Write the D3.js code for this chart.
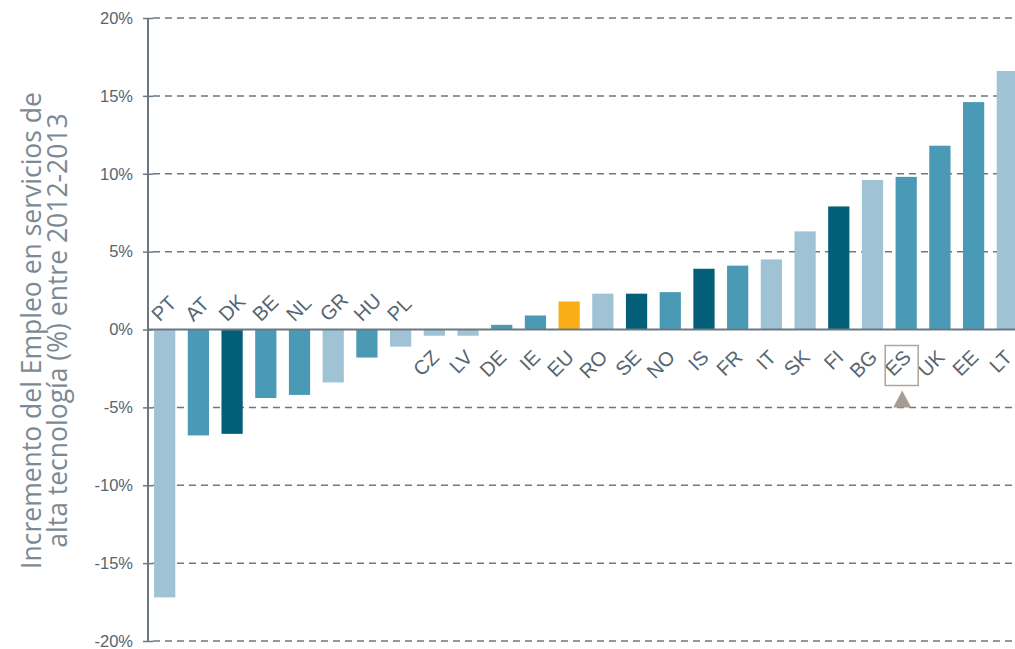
<!DOCTYPE html>
<html>
<head>
<meta charset="utf-8">
<script src="https://cdn.jsdelivr.net/npm/d3@7"></script>
<style>
body { margin: 0; background: #fff; }
svg { display: block; }
</style>
</head>
<body>
<script>
var w = 1015;
var h = 649;

// data
var countries = ["PT", "AT", "DK", "BE", "NL", "GR", "HU", "PL", "CZ", "LV", "DE", "IE", "EU",
    "RO", "SE", "NO", "IS", "FR", "IT", "SK", "FI", "BG", "ES", "UK", "EE", "LT"];
var values = [-17.2, -6.8, -6.7, -4.4, -4.2, -3.4, -1.8, -1.1, -0.4, -0.4, 0.3, 0.9, 1.8,
    2.3, 2.3, 2.4, 3.9, 4.1, 4.5, 6.3, 7.9, 9.6, 9.8, 11.8, 14.6, 16.6];
// shade group of each bar: 0 light, 1 mid, 2 dark, 3 EU
var groups = [0, 1, 2, 1, 1, 0, 1, 0, 0, 0, 1, 1, 3,
    0, 2, 1, 2, 1, 0, 0, 2, 0, 1, 1, 1, 0];
var yTicks = [-20, -15, -10, -5, 0, 5, 10, 15, 20];
var highlight = "ES";
var titleLines = ["Incremento del Empleo en servicios de", "alta tecnología (%) entre 2012-2013"];

var colors = ["#9fc3d5", "#4a9ab5", "#035e78", "#fbad18"];
var axisColor = "#6b7884";
var textColor = "#56656f";

var data = countries.map((c, i) => ({ name: c, value: values[i], group: groups[i] }));

var svg = d3.select("body")
    .append("svg")
    .attr("width", w)
    .attr("height", h);

var x = d3.scaleBand()
    .domain(countries)
    .range([148, 1024])
    .paddingInner(0.37)
    .paddingOuter(0.18);

var y = d3.scaleLinear()
    .domain([-20, 20])
    .range([641, 18]);

// grid lines
svg.append("g")
    .selectAll("line")
    .data(yTicks.filter(d => d != 0))
    .enter()
    .append("line")
    .attr("x1", 153)
    .attr("x2", w)
    .attr("y1", d => y(d))
    .attr("y2", d => y(d))
    .attr("stroke", axisColor)
    .attr("stroke-width", 1.5)
    .attr("stroke-dasharray", "7,5");

// y axis
var yAxis = d3.axisLeft(y)
    .tickValues(yTicks)
    .tickSize(5)
    .tickPadding(10)
    .tickFormat(d => d + "%");

var ag = svg.append("g")
    .attr("transform", "translate(148,0)")
    .call(yAxis);
ag.select(".domain").remove();
ag.selectAll(".tick line")
    .attr("x1", -5).attr("x2", 5)
    .attr("stroke", axisColor)
    .attr("stroke-width", 1.5);
ag.selectAll(".tick text")
    .attr("fill", textColor)
    .attr("font-family", "'Liberation Sans', Arial, sans-serif")
    .attr("font-size", 16.5);
ag.append("line")
    .attr("y1", y(20)).attr("y2", y(-20))
    .attr("stroke", axisColor)
    .attr("stroke-width", 2);

// bars
svg.append("g")
    .selectAll("rect")
    .data(data)
    .enter()
    .append("rect")
    .attr("x", d => x(d.name))
    .attr("y", d => y(Math.max(0, d.value)))
    .attr("width", x.bandwidth())
    .attr("height", d => Math.abs(y(d.value) - y(0)))
    .attr("fill", d => colors[d.group]);

// zero line
svg.append("line")
    .attr("x1", 148).attr("x2", w)
    .attr("y1", y(0)).attr("y2", y(0))
    .attr("stroke", axisColor)
    .attr("stroke-width", 2);

// country labels (big negative bars get them above the zero line)
svg.append("g")
    .selectAll("text")
    .data(data)
    .enter()
    .append("text")
    .attr("transform", d => {
        var cx = x(d.name) + x.bandwidth() / 2;
        return d.value < -1
            ? "translate(" + (cx - 5) + "," + (y(0) - 7) + ") rotate(-45)"
            : "translate(" + (cx + 6) + "," + (y(0) + 29) + ") rotate(-45)";
    })
    .attr("text-anchor", d => d.value < -1 ? "start" : "end")
    .attr("fill", textColor)
    .attr("font-family", "'Liberation Sans', Arial, sans-serif")
    .attr("font-size", 20)
    .text(d => d.name);

// highlight box + arrow
var hx = x(highlight) + x.bandwidth() / 2;
svg.append("rect")
    .attr("x", hx - 21)
    .attr("y", y(0) + 16)
    .attr("width", 33)
    .attr("height", 40)
    .attr("fill", "none")
    .attr("stroke", "#b0a49b")
    .attr("stroke-width", 1.5);
svg.append("path")
    .attr("d", "M" + (hx - 13) + "," + (y(0) + 78) + "l9,-17l9,17z")
    .attr("fill", "#a89c92");

// axis title
var title = svg.append("text")
    .attr("transform", "translate(41," + (y(0) + 1) + ") rotate(-90)")
    .attr("text-anchor", "middle")
    .attr("fill", "#7b8994")
    .attr("font-family", "'Open Sans', sans-serif")
    .attr("font-size", 26.5);
titleLines.forEach((t, i) => {
    title.append("tspan")
        .attr("x", 0)
        .attr("dy", i == 0 ? 0 : 26)
        .text(t);
});
</script>
</body>
</html>
